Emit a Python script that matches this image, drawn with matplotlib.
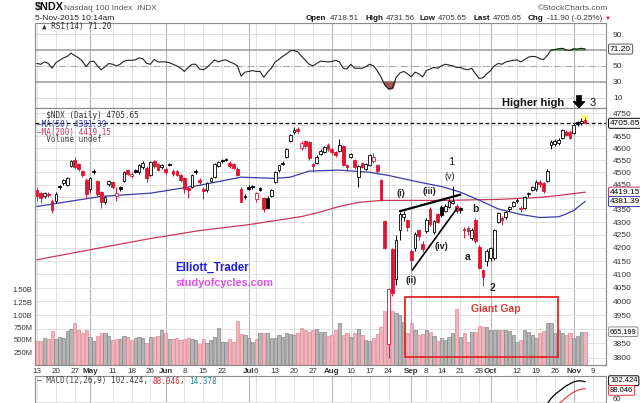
import matplotlib
matplotlib.use('Agg')
import matplotlib.pyplot as plt
import numpy as np
from matplotlib.transforms import blended_transform_factory as btf
from matplotlib.patches import Rectangle, Polygon
from matplotlib.ticker import NullLocator, NullFormatter

plt.rcParams['font.family'] = ['Liberation Sans', 'DejaVu Sans']

# ---------------- data ----------------
opens = [4428,4415,4405,4412,4385,4385,4445,4455,4450,4525,
         4550,4535,4505,4470,4430,4505,4465,4420,4380,4452,
         4460,4405,4440,4465,4510,4485,4510,4500,4520,4518,
         4490,4545,4535,4520,4515,4535,4505,4505,4488,4475,
         4437,4440,4505,4470,4433,4428,4465,4480,4525,4550,
         4555,4540,4535,4515,4433,4405,4440,4445,4390,4435,
         4395,4395,4405,4462,4508,4540,4565,4630,4668,4680,
         4600,4630,4628,4535,4540,4575,4585,4614,4597,4582,
         4590,4608,4528,4565,4550,4480,4537,4515,4530,4545,
         4530,4468,4305,3848,4194,4082,4270,4320,4308,4190,
         4200,4270,4215,4265,4350,4262,4330,4360,4345,4360,
         4375,4365,4355,4275,4278,4240,4310,4205,4115,4150,
         4160,4160,4300,4315,4320,4350,4365,4382,4355,4355,
         4410,4428,4430,4462,4455,4465,4612,4618,4620,4645,
         4668,4670,4665,4710,4705,4718.51]
highs = [4442,4420,4420,4420,4392,4418,4450,4472,4482,4552,
         4562,4540,4510,4475,4480,4512,4470,4425,4405,4470,
         4465,4440,4445,4505,4515,4500,4515,4535,4545,4525,
         4548,4550,4540,4535,4520,4540,4512,4510,4492,4480,
         4442,4495,4512,4475,4440,4460,4480,4540,4548,4556,
         4560,4545,4538,4520,4440,4412,4448,4450,4420,4440,
         4400,4402,4432,4505,4532,4548,4602,4662,4690,4688,
         4630,4635,4632,4540,4570,4595,4610,4620,4602,4588,
         4640,4612,4535,4580,4555,4530,4542,4540,4575,4580,
         4535,4472,4310,4050,4200,4250,4340,4345,4312,4195,
         4262,4275,4225,4315,4358,4310,4335,4368,4370,4390,
         4445,4370,4360,4282,4285,4278,4315,4210,4120,4195,
         4205,4275,4340,4325,4342,4365,4385,4395,4362,4405,
         4420,4445,4468,4470,4462,4512,4635,4640,4642,4680,
         4675,4675,4705,4715,4730,4731.56]
lows = [4385,4376,4395,4400,4335,4375,4432,4448,4445,4520,
        4515,4505,4480,4395,4420,4495,4405,4355,4372,4445,
        4432,4385,4425,4460,4490,4478,4498,4495,4515,4460,
        4485,4518,4505,4515,4495,4525,4485,4485,4462,4415,
        4395,4435,4495,4452,4390,4420,4460,4475,4520,4540,
        4545,4518,4512,4485,4378,4392,4428,4432,4378,4422,
        4340,4350,4398,4458,4502,4530,4560,4625,4662,4665,
        4592,4600,4552,4503,4535,4570,4580,4590,4575,4565,
        4585,4525,4505,4560,4515,4440,4518,4510,4525,4540,
        4495,4385,4195,3797,4020,4060,4230,4305,4265,4120,
        4190,4230,4185,4258,4285,4255,4295,4320,4340,4355,
        4370,4335,4335,4240,4250,4230,4220,4120,4055,4130,
        4150,4155,4295,4290,4312,4345,4360,4375,4340,4350,
        4400,4422,4425,4440,4415,4460,4595,4610,4612,4640,
        4650,4640,4660,4695,4700,4705.65]
closes = [4405,4397,4415,4408,4348,4412,4440,4467,4478,4545,
          4522,4515,4490,4410,4475,4500,4410,4380,4400,4465,
          4440,4415,4430,4500,4495,4492,4502,4530,4537,4478,
          4542,4525,4510,4530,4502,4530,4492,4490,4468,4432,
          4428,4490,4500,4460,4422,4455,4475,4535,4542,4545,
          4550,4525,4518,4490,4380,4398,4432,4438,4415,4428,
          4352,4357,4428,4500,4528,4535,4598,4657,4677,4672,
          4620,4610,4560,4525,4565,4590,4605,4595,4582,4572,
          4612,4530,4522,4575,4520,4525,4523,4535,4572,4562,
          4505,4388,4200,4045,4030,4230,4330,4332,4282,4155,
          4255,4245,4195,4310,4292,4305,4300,4328,4365,4385,
          4385,4345,4348,4268,4265,4270,4225,4125,4090,4190,
          4200,4270,4335,4310,4338,4360,4380,4388,4350,4400,
          4415,4440,4462,4452,4422,4505,4628,4632,4636,4676,
          4655,4645,4700,4704,4717.55,4705.65]
volume_m = [487,487,533,513,680,513,567,533,680,713,
            847,700,633,700,553,480,580,633,633,587,
            500,513,513,580,567,500,533,553,533,447,
            553,567,580,700,633,513,513,533,500,520,
            533,513,500,413,520,447,500,553,733,467,
            467,520,467,887,613,600,533,453,513,647,
            647,647,533,533,600,567,647,620,600,633,
            733,700,667,700,713,667,667,580,600,700,
            833,600,647,567,647,720,600,500,480,533,
            620,767,1080,1500,1080,1033,1000,867,647,847,
            700,600,620,700,667,580,487,533,500,553,
            633,1113,553,633,467,667,667,780,753,767,
            700,700,700,700,700,680,600,467,500,700,
            667,600,533,633,680,833,847,633,700,633,
            600,633,533,580,667,665.2]
rsi14 = [53,52,55,53,47,54,57,60,62,66,
         63,60,56,49,55,56,50,45,49,53,
         52,50,52,56,57,57,57.5,60,59,53,
         52,58,55,55,55,54,52,50,47,43,
         48,52,52,46,45,48,53,57.5,55,57,
         57.5,55,53,50,37,42,43,44,43,43,
         35.5,42,47,55,58,62,65,69,69.5,67.5,
         62,57,52,50,53,56,55.5,55,55.5,57,
         55,47,46,52,47,47,47,49,52,50,
         44,36,26,21,22,35,41,43,40,36,
         42,40,36,44,46,48,47,50,52,51,
         50,48,48,46,45,47,40,34,35,40,
         44,50,53,52,55,56,57,57.5,55,58,
         61,62,61.5,59,58,63,70,70.5,71.5,72,
         70,69.5,71.5,71,72,71.2]
ma50_idx = [0,17,30,43,54,63,67,72,80,88,93,101,107,112,117,122,128,133,138,140,142,143,144,145]
ma50 = [4362,4402,4415,4447,4480,4475,4480,4505,4509,4500,4487,4460,4442,4419,4387,4352,
        4330,4318,4321,4332,4346,4358,4370,4381.39]
ma200_idx = [0,17,30,43,56,70,75,80,85,91,107,122,133,138,145]
ma200 = [4155,4201,4236,4267,4290,4322,4340,4362,4378,4386,4386,4390,4398,4406,4419.15]
macd_idx = list(range(130, 146))
macd_line = [30,34,38,43,48,57,68,76,82,88,94,98,102,104,104,102.424]
macd_signal = [20,23,26,30,34,39,45,51,57,63,70,76,81,84.5,87,88.046]

tick_idx = [0,5,10,14,20,25,30,34,39,44,49,56,58,63,68,73,78,83,88,93,
            99,103,107,112,117,120,127,132,137,142,147]
tick_lbl = ['13','20','27','May','11','18','26','Jun','8','15','22','Jul','6','13','20','27',
            'Aug','10','17','24','Sep','8','14','21','28','Oct','12','19','26','Nov','9']
months = ['May','Jun','Jul','Aug','Sep','Oct','Nov']
price_levels = list(range(3800, 4751, 50))
vol_ticks = [250, 500, 750, 1000, 1250, 1500]
vol_lbls = ['250M', '500M', '750M', '1.00B', '1.25B', '1.50B']

# ---------------- layout helpers ----------------
W, H = 640, 403
fig = plt.figure(figsize=(6.4, 4.03), dpi=100)
fig.patch.set_facecolor('white')

def fx(px):
    return px / W

def fy(py):
    return 1 - py / H

L_, R_ = 35, 606
ax_rsi = fig.add_axes([fx(L_), fy(108), fx(R_ - L_), (108 - 23) / H])
ax = fig.add_axes([fx(L_), fy(365), fx(R_ - L_), (365 - 108) / H])
ax_vol = ax.twinx()
ax_macd = fig.add_axes([fx(L_), fy(460), fx(R_ - L_), (460 - 376) / H])

XL = (-0.53, 150.53)
GRID = '#dcdcdc'
MGRID = '#b4b4b4'
SPINE = '#8c8c8c'
RED = '#dd1535'
BLUE_MA = '#3a3aa8'
RED_MA = '#c8385a'

idx = np.arange(len(closes))
O = np.array(opens, float); Hh = np.array(highs, float)
Lw = np.array(lows, float); C = np.array(closes, float)
prev = np.r_[O[0], C[:-1]]
up = C >= prev

week_lines = [t for t, l in zip(tick_idx, tick_lbl) if l not in months]
month_lines = [t for t, l in zip(tick_idx, tick_lbl) if l in months]

def style_axis(a):
    for s in a.spines.values():
        s.set_color(SPINE)
        s.set_linewidth(0.8)
    a.set_xlim(*XL)

def vgrid(a):
    for t in week_lines:
        a.axvline(t, color=GRID, lw=0.6, zorder=0)
    for t in month_lines:
        a.axvline(t, color=MGRID, lw=0.8, zorder=0)

def tag(a, yval, text, ec, fs=6):
    a.text(1.007, yval, text, transform=btf(a.transAxes, a.transData), fontsize=fs,
           va='center', ha='left', color='black', clip_on=False, zorder=20,
           bbox=dict(boxstyle='round,pad=0.18', fc='white', ec=ec, lw=0.7))

# ---------------- RSI panel ----------------
style_axis(ax_rsi)
ax_rsi.set_ylim(-3.2, 104.1)
vgrid(ax_rsi)
for lv in (10, 90):
    ax_rsi.axhline(lv, color=GRID, lw=0.7, zorder=0)
for lv in (30, 70):
    ax_rsi.axhline(lv, color='#a8a8a8', lw=1.3, zorder=1)
ax_rsi.axhline(50, color='#a8a8a8', lw=0.8, ls='-.', zorder=1)
r = np.array(rsi14, float)
ax_rsi.fill_between(idx, r, 70, where=r > 70, interpolate=True, color='#5f9a62', zorder=2)
ax_rsi.fill_between(idx, r, 30, where=r < 30, interpolate=True, color='#9c5a55', zorder=2)
ax_rsi.plot(idx, r, color='#222222', lw=0.8, zorder=3)
ax_rsi.set_xticks([])
ax_rsi.yaxis.tick_right()
ax_rsi.set_yticks([10, 30, 50, 70, 90])
ax_rsi.set_yticklabels(['10', '30', '50', '', '90'])
ax_rsi.tick_params(axis='y', length=0, labelsize=6, pad=5, labelcolor='#333333')
tag(ax_rsi, rsi14[-1], '71.20', '#555555')
ax_rsi.text(0.012, (108 - 27) / 85, '\u25b2 RSI(14) 71.20', transform=ax_rsi.transAxes,
            va='center', ha='left', family=['DejaVu Sans Mono', 'DejaVu Sans'],
            fontsize=5.5, color='#333333')

# ---------------- volume (under price) ----------------
ax_vol.set_zorder(1)
ax.set_zorder(2)
ax.patch.set_visible(False)
ax_vol.patch.set_visible(True)
ax_vol.patch.set_facecolor('white')
style_axis(ax_vol)
vgrid(ax_vol)
hgrid_tr = btf(ax_vol.transAxes, ax.transData)
for lv in price_levels:
    ax_vol.plot([0, 1], [lv, lv], transform=hgrid_tr, color=GRID, lw=0.6, zorder=0)
vcol = np.where(up, '#b5b5b5', '#f2b3bd')
vedge = np.where(up, '#858585', '#dc8a98')
ax_vol.bar(idx, volume_m, width=0.85, color=vcol, edgecolor=vedge, linewidth=0.5, zorder=2)
ax_vol.set_ylim(0, 5140)
ax_vol.yaxis.tick_left()
ax_vol.set_yticks(vol_ticks)
ax_vol.set_yticklabels(vol_lbls)
ax_vol.tick_params(axis='y', length=0, labelsize=5.5, pad=2, labelcolor='#333333')
tag(ax_vol, volume_m[-1], '665,199', '#8a8a8a', fs=5.3)

# ---------------- price panel ----------------
style_axis(ax)
ax.set_yscale('log')
ax.set_ylim(3774.5, 4771.8)
ax.yaxis.tick_right()
ax.set_yticks(price_levels)
ax.set_yticklabels(['' if p in (3900, 4400, 4700) else str(p) for p in price_levels])
ax.yaxis.set_minor_locator(NullLocator())
ax.yaxis.set_minor_formatter(NullFormatter())
ax.tick_params(axis='y', length=0, labelsize=6, pad=5, labelcolor='#333333')
ax.set_xticks(tick_idx)
ax.set_xticklabels(tick_lbl)
ax.tick_params(axis='x', length=0, labelsize=5.8, pad=2.5, labelcolor='#333333')
for lb in ax.get_xticklabels():
    if lb.get_text() in months:
        lb.set_fontweight('bold')

# highlight of the live (last) bar
ax.bar(idx[-1], Hh[-1] - Lw[-1] + 12, bottom=Lw[-1] - 4, width=1.7, color='#ffff70', zorder=2)

ax.plot(ma200_idx, ma200, color=RED_MA, lw=0.9, zorder=3)
ax.plot(ma50_idx, ma50, color=BLUE_MA, lw=0.9, zorder=3)
ax.axhline(C[-1], color='black', lw=0.9, ls=(0, (3, 2)), zorder=3)

ccol = np.where(up, 'black', RED)
ax.vlines(idx, Lw, Hh, colors=ccol, lw=0.7, zorder=4)
hollow = C >= O
face = np.where(hollow, 'white', ccol)
ax.bar(idx, np.maximum(np.abs(C - O), 1.5), bottom=np.minimum(O, C), width=0.72,
       color=face, edgecolor=ccol, linewidth=0.6, zorder=5)

tag(ax, 4705.65, '4705.65', 'black')
tag(ax, 4419.15, '4419.15', RED_MA)
tag(ax, 4381.39, '4381.39', BLUE_MA)

lg = dict(transform=ax.transAxes, family='DejaVu Sans Mono', fontsize=5.5, va='center', ha='left', zorder=8)
ax.text(0.004, (365 - 116) / 257, '  \\$NDX (Daily) 4705.65', color='#333333', **lg)
ax.text(0.004, (365 - 124) / 257, '\u2014MA(50) 4381.39', color=BLUE_MA, **lg)
ax.text(0.004, (365 - 132) / 257, '\u2014MA(200) 4419.15', color=RED_MA, **lg)
ax.text(0.004, (365 - 140) / 257, '  Volume undef', color='#444444', **lg)

# Elliott wave annotations
wave = [('1', 109.5, 4541, 'normal', 8), ('(v)', 109.3, 4484, 'normal', 6.5),
        ('(iii)', 103.7, 4423, 'bold', 6.5), ('(i)', 96.3, 4414, 'bold', 6.5),
        ('(iv)', 106.9, 4205, 'bold', 6.5), ('(ii)', 98.9, 4076, 'bold', 6.5),
        ('b', 116.1, 4350, 'bold', 7.5), ('a', 114.0, 4167, 'bold', 7.5),
        ('2', 120.4, 4050, 'bold', 7.5)]
for s, xi, yp, fw, fs in wave:
    ax.text(xi, yp, s, ha='center', va='center', fontsize=fs, fontweight=fw,
            color='#222222', zorder=9)
ax.plot([95.8, 112.2], [4342, 4410], color='black', lw=1.6, zorder=6, solid_capstyle='butt')
ax.plot([99.2, 111.1], [4114, 4354], color='black', lw=1.2, zorder=6, solid_capstyle='butt')

ax.text(36.5, 4125, 'Elliott_Trader', color='#1c1ce8', fontweight='bold', fontsize=8.3,
        va='center', ha='left', zorder=9)
ax.text(36.8, 4069, 'studyofcycles.com', color='#e050e6', fontweight='bold', fontsize=7.8,
        va='center', ha='left', zorder=9)

ax.add_patch(Rectangle((fx(405), fy(357)), fx(558) - fx(405), (357 - 297) / H,
                       transform=fig.transFigure, fill=False, ec='#e02828', lw=1.3,
                       clip_on=False, zorder=7))
fig.text(fx(496), fy(311.5), 'Giant Gap', color='#e23a3a', fontweight='bold', fontsize=7.5,
         ha='center', va='baseline', zorder=9)

# ---------------- MACD panel ----------------
style_axis(ax_macd)
ax_macd.set_ylim(-58.7, 114.1)
vgrid(ax_macd)
ax_macd.axhline(60, color=GRID, lw=0.6, zorder=0)
ax_macd.plot(macd_idx, macd_line, color='black', lw=0.9, zorder=3)
ax_macd.plot(macd_idx, macd_signal, color='#e0303a', lw=0.8, zorder=3)
ax_macd.set_xticks([])
ax_macd.yaxis.tick_right()
ax_macd.set_yticks([67])
ax_macd.set_yticklabels(['60'])
ax_macd.tick_params(axis='y', length=0, labelsize=5.5, pad=5, labelcolor='#333333')
tag(ax_macd, 104.5, '102.424', 'black', fs=5.5)
tag(ax_macd, 84.5, '88.046', '#e0303a', fs=5.5)

# ---------------- header texts ----------------
rend = fig.canvas.get_renderer()

def seq_text(x_px, y_px, pieces):
    x = x_px
    for s, kw in pieces:
        t = fig.text(fx(x), fy(y_px), s, va='baseline', ha='left', **kw)
        x += t.get_window_extent(renderer=rend).width
    return x

fig.text(fx(35), fy(10), '\\$NDX', fontsize=7.8, fontweight='bold', va='baseline', color='#111111')
fig.text(fx(63.5), fy(10), 'Nasdaq 100 Index  INDX', fontsize=6, va='baseline', color='#555555')
fig.text(fx(35), fy(19.5), '5-Nov-2015 10:14am', fontsize=6, va='baseline', color='#222222')
fig.text(fx(608), fy(9.5), '\u00a9StockCharts.com', fontsize=6, va='baseline', ha='right',
         color='#555555')
B = dict(fontsize=5.8, fontweight='bold', color='#111111')
N = dict(fontsize=5.8, color='#333333')
xe = 0
for lab, val, xp in [('Open', '4718.51', 306), ('High', '4731.56', 365), ('Low', '4705.65', 419),
                     ('Last', '4705.65', 473), ('Chg', '-11.90 (-0.25%)', 528)]:
    xe = seq_text(xp, 19.5, [(lab, B)])
    xe = seq_text(xe + 3, 19.5, [(val, N)])
fig.text(fx(max(xe + 2.5, 603)), fy(19.5), '\u25bc', fontsize=4.3, color=RED, va='baseline', ha='left')

mono = dict(family='DejaVu Sans Mono', fontsize=5.5)
mx = seq_text(37, 383.5, [('\u2014 MACD(12,26,9) 102.424, ', dict(color='#444444', **mono))])
mx = seq_text(mx, 383.5, [('88.046', dict(color='#d03030', **mono))])
mx = seq_text(mx, 383.5, [(', ', dict(color='#444444', **mono))])
seq_text(mx, 383.5, [('14.378', dict(color='#2a8a9a', **mono))])

# Higher high annotation
fig.text(fx(502), fy(106.5), 'Higher high', fontsize=8, fontweight='bold', va='baseline', color='#111111')
fig.text(fx(590), fy(106.5), '3', fontsize=8, va='baseline', color='#111111')
arrow_px = [(576.5, 95.5), (581.5, 95.5), (581.5, 101.5), (585, 101.5), (579, 108),
            (573, 101.5), (576.5, 101.5)]
fig.patches.append(Polygon([(fx(a), fy(b)) for a, b in arrow_px], closed=True,
                           transform=fig.transFigure, fc='black', ec='black', lw=0.5))

fig.savefig('out.png', dpi=100)
